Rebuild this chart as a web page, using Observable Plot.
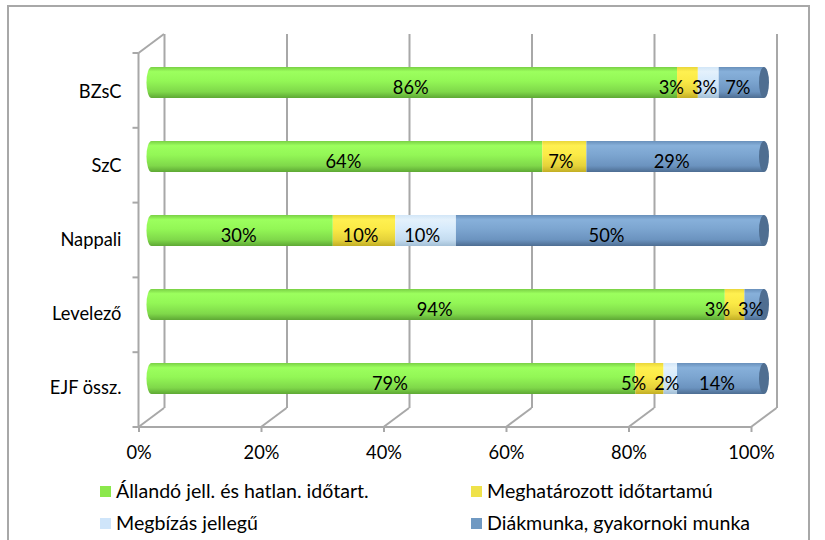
<!DOCTYPE html>
<html>
<head>
<meta charset="utf-8">
<script src="https://cdn.jsdelivr.net/npm/d3@7"></script>
<script src="https://cdn.jsdelivr.net/npm/@observablehq/plot@0.6"></script>
<style>
  html, body { margin: 0; padding: 0; background: #fff; }
  body { width: 825px; height: 540px; position: relative; overflow: hidden; font-family: Lato, "Open Sans", sans-serif; }
  #border { position: absolute; left: 7px; top: 5px; width: 803px; height: 600px; border: 2px solid #a8a8a8; box-sizing: border-box; }
  #chart { position: absolute; left: 0; top: 0; }
  .lg { position: absolute; font-size: 19.6px; color: #000; white-space: nowrap; line-height: 22px; }
  .sw { position: absolute; width: 11px; height: 11px; }
</style>
</head>
<body>
<div id="border"></div>
<div id="chart"></div>
<div id="legend"></div>
<script>
// ---- data (percent shares; labels show rounded values) ----
const categories = ["BZsC", "SzC", "Nappali", "Levelező", "EJF össz."];
const seriesNames = [
  "Állandó jell. és hatlan. időtart.",
  "Meghatározott időtartamú",
  "Megbízás jellegű",
  "Diákmunka, gyakornoki munka"
];
const allando  = [85.8, 63.8, 29.6, 93.6, 79.0];
const meghat   = [3.4, 7.2, 10.2, 3.2, 4.6];
const megbizas = [3.4, 0, 9.9, 0, 2.2];
const diak     = [7.4, 29.0, 50.3, 3.2, 14.2];
const xTicks = [0, 0.2, 0.4, 0.6, 0.8, 1];
const legendColors = ["#8be84c", "#efe24a", "#cfe5fa", "#7099c2"];

// gradient stops per series (cylinder shading)
const gradStops = [
  ["#79d045", "#9cff5e", "#93f756", "#7fd84a", "#5ea834"],
  ["#e9d63a", "#fff050", "#fbea46", "#e5d23a", "#c2ae24"],
  ["#d2e6f7", "#e4f1fc", "#d6eafb", "#c4dcf0", "#a3bfd6"],
  ["#6990bb", "#87b0da", "#7ca5d0", "#6b93bf", "#4d6d92"]
];

const seriesValues = [allando, meghat, megbizas, diak];
const data = [];
categories.forEach((c, i) => {
  seriesNames.forEach((s, k) => data.push({category: c, series: s, value: seriesValues[k][i]}));
});

const font = "Lato, 'Open Sans', sans-serif";
const gridColor = "#a8a8a8";
const fs = 18.3;

const chart = Plot.plot({
  width: 825,
  height: 480,
  marginLeft: 151.5,
  marginRight: 61,
  marginTop: 43.5,
  marginBottom: 62.5,
  style: {fontFamily: font, fontSize: fs + "px", color: "#000", background: "transparent"},
  x: {domain: [0, 1]},
  y: {domain: categories, paddingInner: 0.585, paddingOuter: 0.2925},
  color: {domain: seriesNames, range: seriesNames.map((s, k) => `url(#cyl${k})`)},
  marks: [
    // back wall gridlines
    Plot.ruleX(xTicks, {x: d => d, dx: 12.5, dy: -9.5, stroke: gridColor, strokeWidth: 2}),
    // front axis
    Plot.axisX(xTicks, {tickSize: 5, tickPadding: 13, dx: -13, dy: 9.5, stroke: gridColor, strokeWidth: 2,
      fill: "#000", tickFormat: d3.format(".0%"), fontSize: fs, label: null}),
    Plot.axisY({tickSize: 0, tickPadding: 30.5, dy: 9.5, fill: "#000", fontSize: fs, label: null}),
    // left round end of the cylinders
    Plot.barX(categories, {x1: () => 0, x2: () => 0, y: d => d, insetLeft: -5, insetRight: -5,
      rx: 5, ry: 15.5, fill: "url(#cyl0)"}),
    // stacked segments
    Plot.barX(data, {x: "value", y: "category", fill: "series", offset: "normalize", order: seriesNames}),
    // right end caps
    Plot.barX(categories, {x1: () => 1, x2: () => 1, y: d => d, insetLeft: -5, insetRight: -5,
      rx: 5, ry: 15.5, fill: "#4f6e91"}),
    // value labels
    Plot.text(data.filter(d => d.value > 0), Plot.stackX({x: "value", y: "category", z: "series", offset: "normalize", order: seriesNames,
      text: d => Math.round(d.value) + "%", dx: -4, dy: 5, fill: "#000", fontSize: fs}))
  ]
});

// gradient definitions for the cylinder look
const svg = d3.select(chart);
const defs = svg.insert("defs", ":first-child");
gradStops.forEach((stops, k) => {
  const g = defs.append("linearGradient").attr("id", `cyl${k}`)
    .attr("x1", 0).attr("y1", 0).attr("x2", 0).attr("y2", 1);
  const offs = [0, 0.15, 0.45, 0.8, 1];
  stops.forEach((c, j) => g.append("stop").attr("offset", offs[j]).attr("stop-color", c));
});

// 3D frame: left wall and floor, drawn with the chart's own scales
const sx = chart.scale("x"), sy = chart.scale("y");
const [y0, y1] = sy.range;
const back = {dx: 12.5, dy: -9.5}, front = {dx: -13, dy: 9.5};
const frame = svg.append("g").attr("stroke", gridColor).attr("stroke-width", 2).attr("fill", "none");
const line = (xa, ya, xb, yb) => frame.append("line").attr("x1", xa).attr("y1", ya).attr("x2", xb).attr("y2", yb);
const fx0 = sx.apply(0) + front.dx, bx0 = sx.apply(0) + back.dx;
line(fx0, y0 + front.dy, fx0, y1 + front.dy);                    // front left edge
line(fx0, y0 + front.dy, bx0, y0 + back.dy);                      // top left diagonal
line(fx0, y1 + front.dy, sx.apply(1) + front.dx, y1 + front.dy);  // front floor edge
xTicks.forEach(v => line(sx.apply(v) + back.dx, y1 + back.dy, sx.apply(v) + front.dx, y1 + front.dy));
for (let k = 0; k <= categories.length; k++) {
  const yy = y0 + front.dy + k * (y1 - y0) / categories.length;
  line(fx0 - 6, yy, fx0, yy);
}

document.getElementById("chart").append(chart);

// nudge crowded value labels apart (right to left), like the spreadsheet does
const labels = svg.selectAll('g[aria-label="text"] text').nodes();
const rows = d3.group(labels, n => {
  const r = n.getBoundingClientRect();
  return Math.round((r.top + r.bottom) / 2);
});
const gap = 8;
for (const [, nodes] of rows) {
  const items = nodes.map(n => ({n, r: n.getBoundingClientRect()})).sort((a, b) => a.r.left - b.r.left);
  let limit = Infinity;
  for (let i = items.length - 1; i >= 0; i--) {
    const {n, r} = items[i];
    let shift = 0;
    if (r.right > limit - gap) {
      shift = r.right - (limit - gap);
      const t = n.getAttribute("transform") || "";
      n.setAttribute("transform", `${t} translate(${-shift},0)`.trim());
    }
    limit = r.left - shift;
  }
}

// legend
const legend = document.getElementById("legend");
const pos = [[100, 486], [471, 486], [100, 518], [471, 518]];
seriesNames.forEach((s, k) => {
  const sw = document.createElement("div");
  sw.className = "sw";
  sw.style.left = pos[k][0] + "px"; sw.style.top = pos[k][1] + "px"; sw.style.background = legendColors[k];
  legend.append(sw);
  const t = document.createElement("div");
  t.className = "lg";
  t.textContent = s;
  t.style.left = (pos[k][0] + 16) + "px"; t.style.top = (pos[k][1] - 6) + "px";
  legend.append(t);
});
</script>
</body>
</html>
